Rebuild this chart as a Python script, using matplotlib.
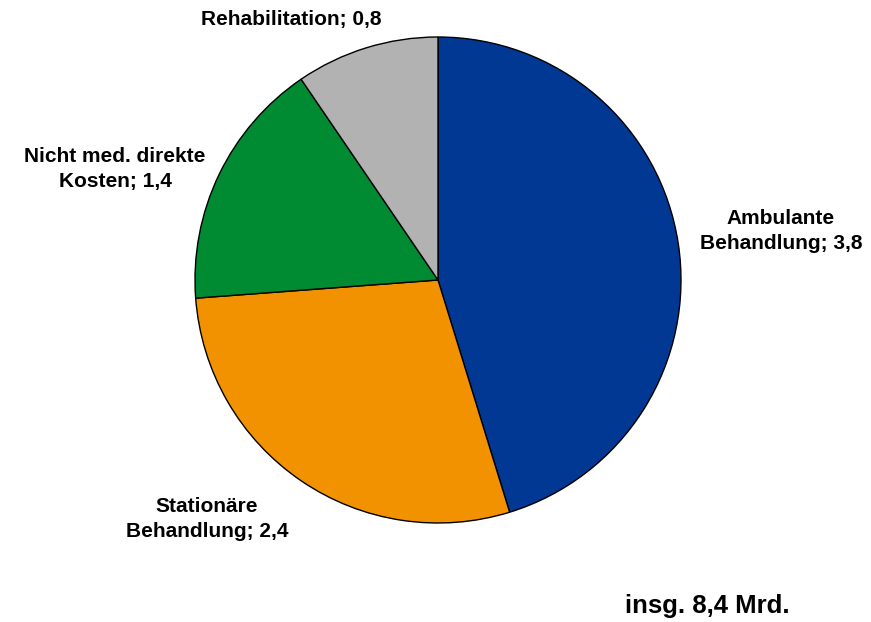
import matplotlib
matplotlib.use("Agg")
import matplotlib.pyplot as plt

categories = ["Ambulante\nBehandlung", "Stationäre\nBehandlung", "Nicht med. direkte\nKosten", "Rehabilitation"]
values = [3.8, 2.4, 1.4, 0.8]
colors = ["#003893", "#F39200", "#008A32", "#B2B2B2"]
total_label = "insg. 8,4 Mrd."

plt.rcParams['font.family'] = ['Liberation Sans', 'DejaVu Sans']

W, H = 871, 622
fig = plt.figure(figsize=(W/100, H/100), dpi=100)
cx, cy, r = 438, 280, 243
ax = fig.add_axes([(cx - r)/W, (H - cy - r)/H, 2*r/W, 2*r/H])
ax.pie(values, colors=colors, startangle=90, counterclock=False, radius=1,
       wedgeprops=dict(edgecolor="black", linewidth=1.0))
ax.set_xlim(-1, 1)
ax.set_ylim(-1, 1)
ax.set_aspect("equal")
ax.axis("off")

label_px = [(781, 231), (207, 519), (115, 169), (291, 20)]
for cat, v, (px, py) in zip(categories, values, label_px):
    txt = f"{cat}; {str(v).replace('.', ',')}"
    ax.text((px - cx)/r, (cy - py)/r, txt, ha="center", va="center",
            fontsize=15, fontweight="bold", linespacing=1.4, clip_on=False)

fig.text(707/W, 1 - 606/H, total_label, ha="center", va="center",
         fontsize=18.5, fontweight="bold")

fig.savefig("out.png", dpi=100)
